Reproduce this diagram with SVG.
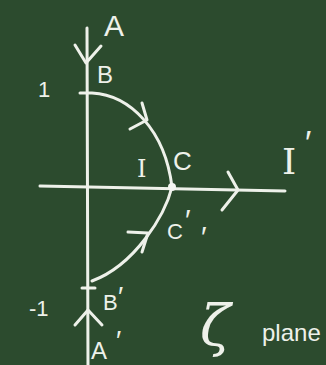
<svg xmlns="http://www.w3.org/2000/svg" width="326" height="365" viewBox="0 0 326 365">
<style>
.ch{fill:none;stroke:#eef1ea;stroke-width:3;stroke-linecap:round;stroke-linejoin:round}
.t{fill:#eef1ea;font-family:"Liberation Sans",Arial,sans-serif}
.r{fill:#eef1ea;font-family:"DejaVu Serif",serif}
.s{fill:#eef1ea;font-family:"DejaVu Serif",serif;font-style:italic}
</style>
<rect width="326" height="365" fill="#2c4b2e"/>
<g id="connectors">
<line class="ch" x1="87" y1="28" x2="88" y2="365"/>
<polyline class="ch" points="75,45 86,63 101,46"/>
<line class="ch" x1="40" y1="186" x2="285" y2="191"/>
<polyline class="ch" points="228,172 238,190 222,210"/>
<path class="ch" d="M80 93 L92 93 C130 95 165 130 172 187"/>
<polyline class="ch" points="142,103 147,120 130,129"/>
<path class="ch" d="M172 187 C165 215 135 265 92 281"/>
<polyline class="ch" points="128,232 148,233 142,252"/>
<line class="ch" x1="82" y1="288" x2="95" y2="288"/>
<polyline class="ch" points="75,325 88,310 102,325"/>
<circle cx="172" cy="187" r="4" fill="#f4f6f2"/>
</g>
<g id="label-A"><text class="t" x="104" y="36" font-size="30">A</text></g>
<g id="label-B"><text class="t" x="97" y="83" font-size="24">B</text></g>
<g id="label-1"><text class="t" x="38" y="97" font-size="22">1</text></g>
<g id="label-I"><text class="r" x="137" y="177" font-size="24">I</text></g>
<g id="label-C"><text class="t" x="173" y="170" font-size="26">C</text></g>
<g id="label-Iprime"><text class="r" x="282" y="174" font-size="36">I</text><text class="t" x="305" y="154" font-size="34">′</text></g>
<g id="label-Cprime"><text class="t" x="167" y="239" font-size="22">C</text><text class="t" x="185" y="230" font-size="30">′</text><text class="t" x="201" y="247" font-size="30">′</text></g>
<g id="label-minus1"><text class="t" x="29" y="316" font-size="22">-1</text></g>
<g id="label-Bprime"><text class="t" x="103" y="310" font-size="22">B</text><text class="t" x="118" y="306" font-size="28">′</text></g>
<g id="label-Aprime"><text class="t" x="91" y="359" font-size="24">A</text><text class="t" x="116" y="350" font-size="28">′</text></g>
<g id="label-plane"><text class="s" x="200" y="345" font-size="56">ζ</text><text class="t" x="262" y="341" font-size="24">plane</text></g>
</svg>
